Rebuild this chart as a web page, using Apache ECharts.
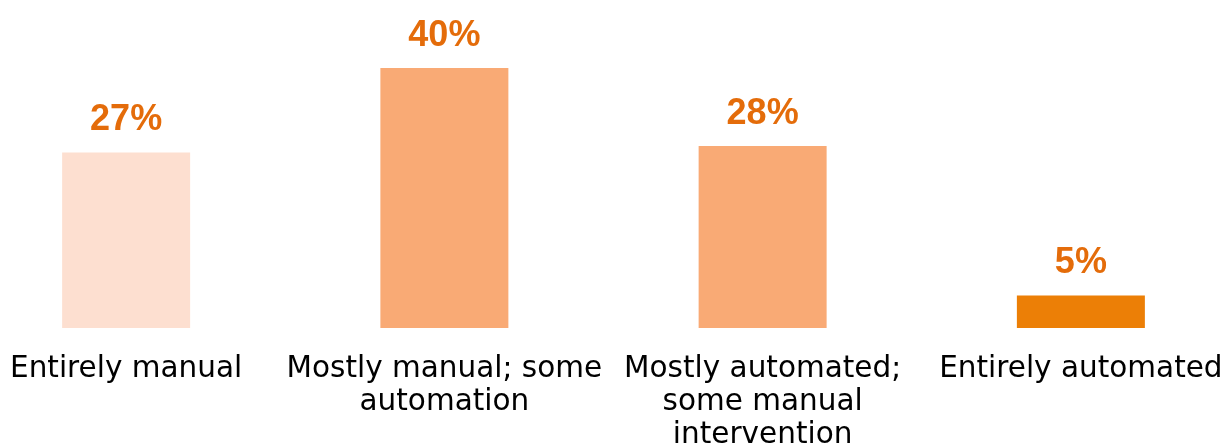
<!DOCTYPE html>
<html>
<head>
<meta charset="utf-8">
<script src="https://cdn.jsdelivr.net/npm/echarts@6/dist/echarts.min.js"></script>
<style>
html,body{margin:0;padding:0;background:#fff;}
#chart{width:1223px;height:447px;}
</style>
</head>
<body>
<div id="chart"></div>
<script>
const categories = ["Entirely manual", "Mostly manual; some\nautomation", "Mostly automated;\nsome manual\nintervention", "Entirely automated"];
const values = [27, 40, 28, 5];
const barColors = ["#FDDFD0", "#F9AA75", "#F9AA75", "#EC7F06"];

const chart = echarts.init(document.getElementById('chart'));
chart.setOption({
  animation: false,
  grid: { left: -33, right: -17, top: 68, bottom: 119, outerBoundsMode: 'none', containLabel: false },
  xAxis: {
    type: 'category',
    data: categories,
    axisLine: { show: false },
    axisTick: { show: false },
    axisLabel: {
      interval: 0,
      margin: 25,
      color: '#000',
      fontFamily: '"DejaVu Sans"',
      fontSize: 29.5,
      lineHeight: 33,
      verticalAlign: 'top'
    }
  },
  yAxis: { type: 'value', min: 0, max: 40, show: false, splitLine: { show: false } },
  series: [{
    type: 'bar',
    barWidth: 128,
    data: values.map((v, i) => ({ value: v, itemStyle: { color: barColors[i] } })),
    label: {
      show: true,
      position: 'top',
      distance: 14,
      formatter: '{c}%',
      color: '#E46C0A',
      fontFamily: '"Liberation Sans"',
      fontWeight: 'bold',
      fontSize: 36
    }
  }]
});
</script>
</body>
</html>
